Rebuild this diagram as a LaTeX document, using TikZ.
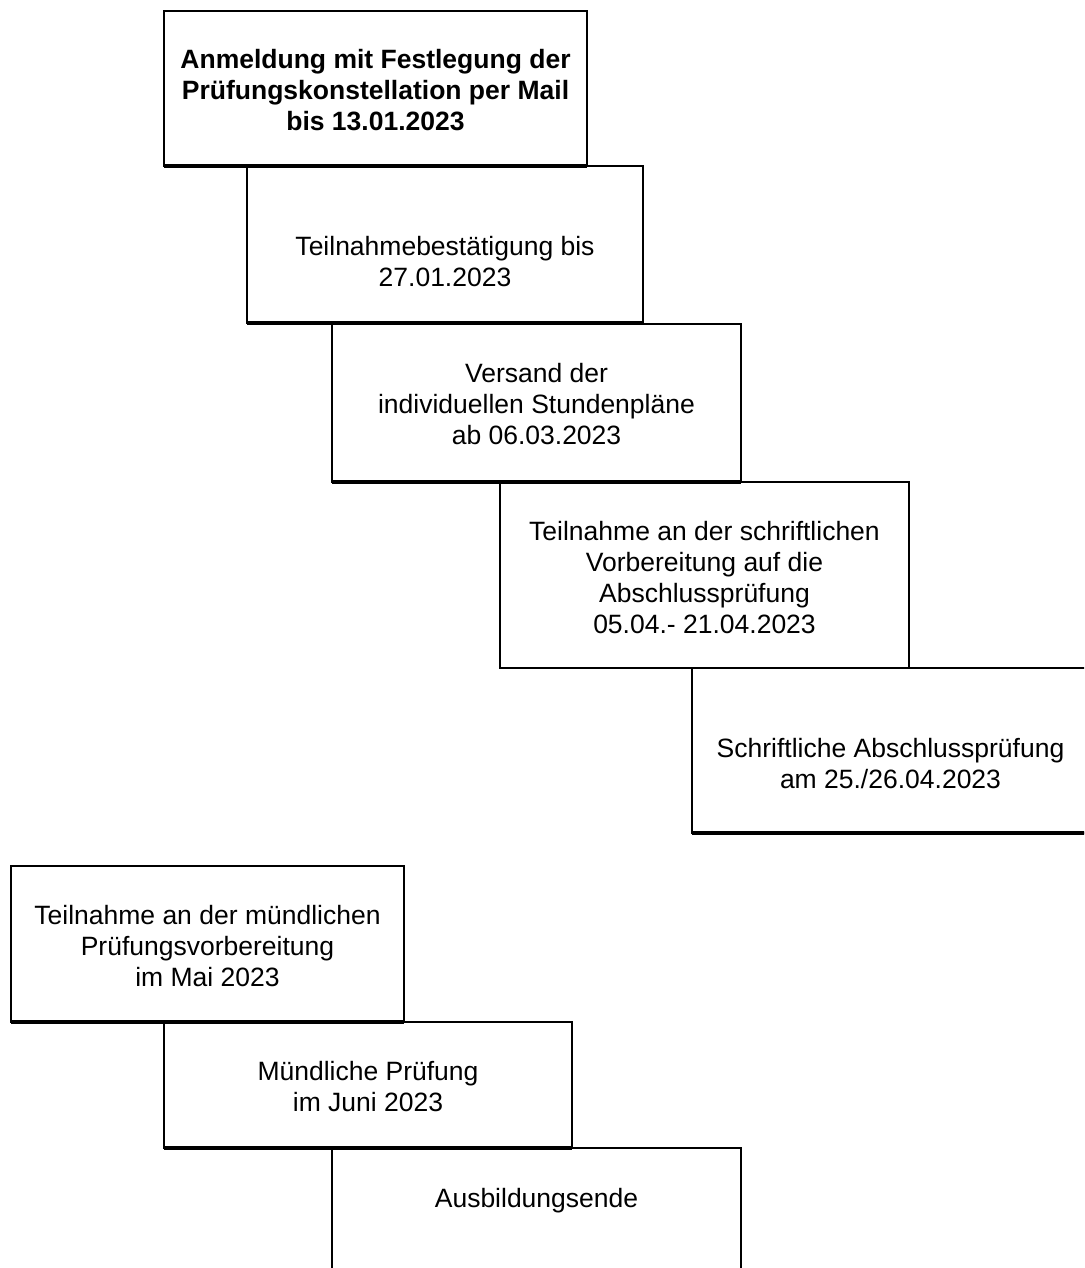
\documentclass[tikz,border=0pt]{standalone}
\usepackage{fontspec}
\setmainfont{Liberation Sans}
\begin{document}
\begin{tikzpicture}[x=1pt,y=-1pt,
  box/.style={draw=black, line width=2pt, anchor=north west, inner sep=0pt, outer sep=0pt},
  thickbottom/.style={line width=3.5pt, line cap=butt},
  txt/.style={anchor=base, inner sep=0pt, font=\fontsize{26.5}{31}\selectfont},
  btxt/.style={txt, font=\fontsize{26.5}{31}\selectfont\bfseries}]
\useasboundingbox (0,0) rectangle (1084,1268);
\clip (0,0) rectangle (1084,1268);
% boxes
\node[box, minimum width=423pt, minimum height=155pt] (b1) at (164,11) {};
\node[box, minimum width=396pt, minimum height=157pt] (b2) at (247,166) {};
\node[box, minimum width=409pt, minimum height=158pt] (b3) at (332,324) {};
\node[box, minimum width=409pt, minimum height=186pt] (b4) at (500,482) {};
\node[box, minimum width=398pt, minimum height=165pt] (b5) at (692,668) {};
\node[box, minimum width=393pt, minimum height=156pt] (b6) at (11,866) {};
\node[box, minimum width=408pt, minimum height=126pt] (b7) at (164,1022) {};
\node[box, minimum width=409pt, minimum height=158pt] (b8) at (332,1148) {};
% thick bottom edges
\draw[thickbottom] (b1.south west) -- (b1.south east);
\draw[thickbottom] (b2.south west) -- (b2.south east);
\draw[thickbottom] (b3.south west) -- (b3.south east);
\draw[thickbottom] (b5.south west) -- (b5.south east);
\draw[thickbottom] (b6.south west) -- (b6.south east);
\draw[thickbottom] (b7.south west) -- (b7.south east);
% texts
\node[btxt] (t1a) at (375.5,69) {Anmeldung mit Festlegung der};
\node[btxt] (t1b) at (375.5,100) {Prüfungskonstellation per Mail};
\node[btxt] (t1c) at (375.5,131) {bis 13.01.2023};
\node[txt] (t2a) at (445,255) {Teilnahmebestätigung bis};
\node[txt] (t2b) at (445,286) {27.01.2023};
\node[txt] (t3a) at (536.5,382) {Versand der};
\node[txt] (t3b) at (536.5,413) {individuellen Stundenpläne};
\node[txt] (t3c) at (536.5,444) {ab 06.03.2023};
\node[txt] (t4a) at (704.5,540) {Teilnahme an der schriftlichen};
\node[txt] (t4b) at (704.5,571) {Vorbereitung auf die};
\node[txt] (t4c) at (704.5,602) {Abschlussprüfung};
\node[txt] (t4d) at (704.5,633) {05.04.- 21.04.2023};
\node[txt] (t5a) at (890.5,757) {Schriftliche Abschlussprüfung};
\node[txt] (t5b) at (890.5,788) {am 25./26.04.2023};
\node[txt] (t6a) at (207.5,924) {Teilnahme an der mündlichen};
\node[txt] (t6b) at (207.5,955) {Prüfungsvorbereitung};
\node[txt] (t6c) at (207.5,986) {im Mai 2023};
\node[txt] (t7a) at (368,1080) {Mündliche Prüfung};
\node[txt] (t7b) at (368,1111) {im Juni 2023};
\node[txt] (t8a) at (536.5,1207) {Ausbildungsende};
\end{tikzpicture}
\end{document}
